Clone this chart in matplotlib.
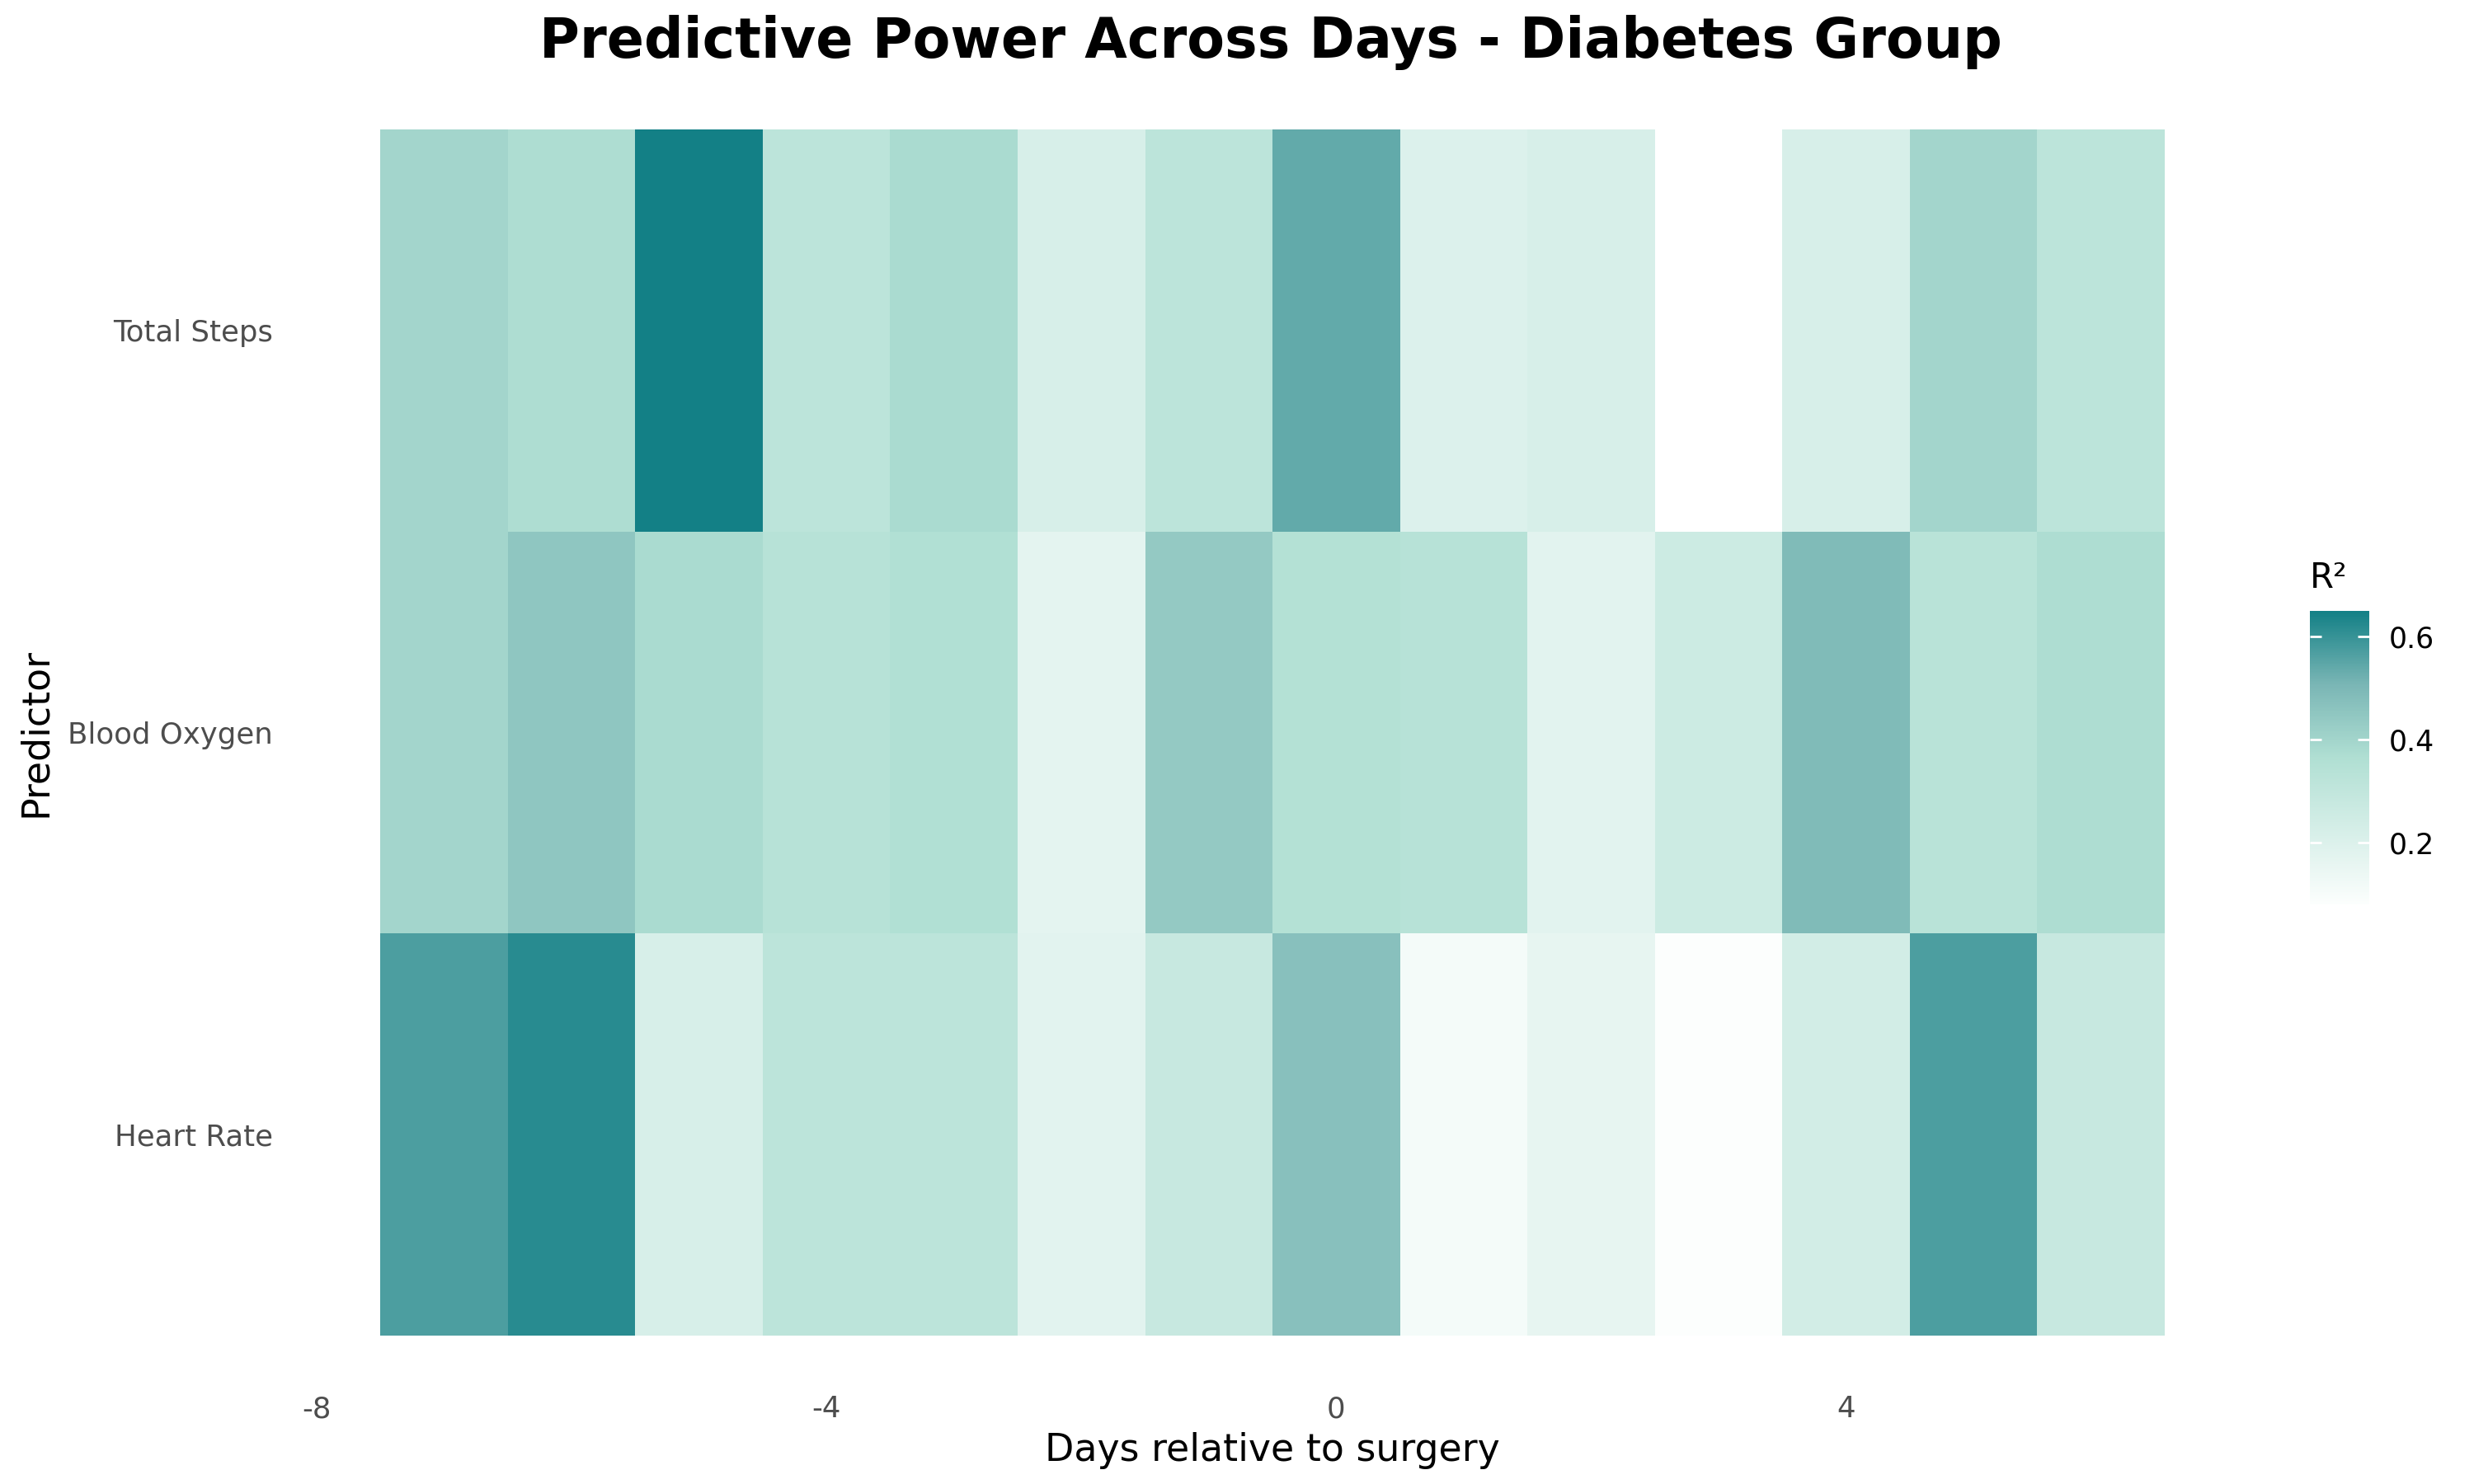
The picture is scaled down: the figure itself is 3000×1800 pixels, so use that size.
import numpy as np
import matplotlib
matplotlib.use("Agg")
import matplotlib.pyplot as plt
from matplotlib.colors import LinearSegmentedColormap, Normalize

days = [-7, -6, -5, -4, -3, -2, -1, 0, 1, 2, 3, 4, 5, 6]
predictors = ["Heart Rate", "Blood Oxygen", "Total Steps"]
heart_rate = [0.57, 0.62, 0.22, 0.32, 0.32, 0.18, 0.28, 0.47, 0.11, 0.16, 0.08, 0.24, 0.57, 0.28]
blood_oxygen = [0.40, 0.45, 0.38, 0.34, 0.36, 0.17, 0.44, 0.35, 0.34, 0.18, 0.26, 0.49, 0.33, 0.37]
total_steps = [0.40, 0.37, 0.65, 0.32, 0.38, 0.22, 0.32, 0.54, 0.20, 0.22, np.nan, 0.22, 0.40, 0.32]
xticks = [-8, -4, 0, 4]
cbar_ticks = [0.2, 0.4, 0.6]

Z = np.ma.masked_invalid(np.array([heart_rate, blood_oxygen, total_steps]))

cmap = LinearSegmentedColormap.from_list(
    "r2", [(0.0, "#fcfefd"), (0.5, "#b0dfd3"), (0.75, "#7ab6b5"), (1.0, "#138086")])
norm = Normalize(vmin=np.nanmin(Z), vmax=np.nanmax(Z))

fig = plt.figure(figsize=(15, 9), dpi=200)
ax = fig.add_axes([0.128, 0.1, 0.747, 0.8128])

xe = np.arange(len(days) + 1) - 0.5 + days[0]
ye = np.arange(len(predictors) + 1) - 0.5
mesh = ax.pcolormesh(xe, ye, Z, cmap=cmap, norm=norm, edgecolors="none")

ax.set_xlim(-8.0, days[-1] + 0.5)
ax.set_ylim(-0.5, len(predictors) - 0.5)
ax.set_xticks(xticks)
ax.set_xticklabels([str(t) for t in xticks])
ax.set_yticks(range(len(predictors)))
ax.set_yticklabels(predictors)
for s in ax.spines.values():
    s.set_visible(False)
ax.tick_params(axis="both", length=0, labelsize=12.8, labelcolor="#4d4d4d")
ax.tick_params(axis="x", pad=26)
ax.tick_params(axis="y", pad=19)
ax.set_xlabel("Days relative to surgery", fontsize=16.5, labelpad=4)
ax.xaxis.label.set_x(0.517)
ax.set_ylabel("Predictor", fontsize=16.5, labelpad=6)
fig.suptitle("Predictive Power Across Days - Diabetes Group", fontsize=24,
             fontweight="bold", y=0.99, x=0.5137)

cax = fig.add_axes([2801 / 3000, 1 - 1097 / 1800, 72 / 3000, 356 / 1800])
cb = fig.colorbar(mesh, cax=cax, ticks=cbar_ticks)
cb.outline.set_visible(False)
cax.yaxis.set_ticks_position("both")
cax.tick_params(which="both", direction="in", color="white", length=5, width=1,
                left=True, right=True, labelleft=False, labelright=True, labelsize=12.5, pad=8.5)
cb.set_ticklabels([f"{t:.1f}" for t in cbar_ticks])
cax.set_title("R²", fontsize=15, loc="left", pad=10)

fig.savefig("out.png", dpi=200, facecolor="white")
